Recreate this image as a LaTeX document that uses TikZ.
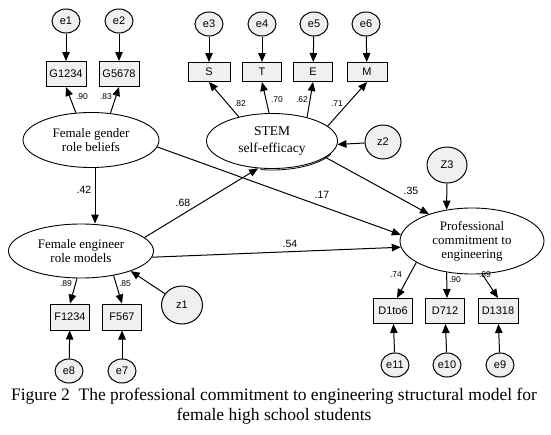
\documentclass[tikz,border=0pt]{standalone}
\usepackage{fontspec}
\setmainfont{Liberation Serif}
\newfontfamily\arialf{Liberation Sans}
\usetikzlibrary{shapes.geometric,arrows.meta}
\begin{document}
\begin{tikzpicture}[x=1pt,y=-1pt,
  lat/.style={ellipse,draw,line width=0.9pt,fill=white,inner sep=0pt,align=center},
  obs/.style={rectangle,draw,line width=1pt,fill=gray!12,minimum width=40pt,minimum height=25pt,inner sep=0pt,font=\arialf\fontsize{11}{12}\selectfont},
  err/.style={ellipse,draw,line width=1pt,fill=gray!12,minimum width=28pt,minimum height=24pt,inner sep=0pt,font=\arialf\fontsize{11}{12}\selectfont},
  arr/.style={-{Triangle[length=9pt,width=7.5pt]},line width=1pt},
  sl/.style={font=\arialf\fontsize{8.5}{9}\selectfont,inner sep=0pt},
  bl/.style={font=\arialf\fontsize{10.5}{11}\selectfont,inner sep=0pt}
]
\useasboundingbox (0,0) rectangle (551,434);
% gender block
\node[err] (e1) at (66,21) {e1};
\node[err] (e2) at (119,21) {e2};
\node[obs] (G1) at (66,74) {G1234};
\node[obs] (G2) at (119,74) {G5678};
\node[lat,minimum width=136pt,minimum height=55pt,font=\fontsize{13}{14}\selectfont] (gender) at (91,140) {Female gender\\role beliefs};
% STEM block
\node[err] (e3) at (209,24) {e3};
\node[err] (e4) at (262,24) {e4};
\node[err] (e5) at (314,24) {e5};
\node[err] (e6) at (366,24) {e6};
\node[obs,minimum width=42pt,minimum height=19pt] (S) at (209,72) {S};
\node[obs,minimum width=39pt,minimum height=19pt] (T) at (262,72) {T};
\node[obs,minimum width=39pt,minimum height=19pt] (E) at (313,72) {E};
\node[obs,minimum width=40pt,minimum height=19pt] (M) at (367,72) {M};
\node[lat,minimum width=131pt,minimum height=55pt,font=\fontsize{13.5}{16.5}\selectfont] (stem) at (272,141) {STEM\\self-efficacy};
\node[err,minimum width=36pt,minimum height=34pt] (z2) at (383,142) {z2};
\draw[line width=0.8pt] (260.7,169.6) arc[start angle=100,end angle=25,x radius=65,y radius=27.5];
% engineer block
\node[lat,minimum width=145pt,minimum height=54pt,font=\fontsize{13}{14}\selectfont] (eng) at (81,251) {Female engineer\\role models};
\node[obs,minimum width=39pt,minimum height=26pt] (F1) at (70,317) {F1234};
\node[obs,minimum width=39pt,minimum height=26pt] (F2) at (122,317) {F567};
\node[err] (e8) at (69,371) {e8};
\node[err] (e7) at (122,371) {e7};
\node[err,minimum width=41pt,minimum height=38pt] (z1) at (182,305) {z1};
% professional block
\node[lat,minimum width=144pt,minimum height=66pt,font=\fontsize{13}{14}\selectfont] (prof) at (472,241) {Professional\\commitment to\\engineering};
\node[err,minimum width=40pt,minimum height=36pt] (Z3) at (447,165) {Z3};
\node[obs,minimum width=39pt,minimum height=25pt] (D1) at (393,311) {D1to6};
\node[obs,minimum width=39pt,minimum height=25pt] (D2) at (445,311) {D712};
\node[obs,minimum width=40pt,minimum height=25pt] (D3) at (498,311) {D1318};
\node[err] (e11) at (395,365) {e11};
\node[err] (e10) at (447,365) {e10};
\node[err] (e9) at (500,365) {e9};
% connectors
\draw[arr] (e1) -- (G1);
\draw[arr] (e2) -- (G2);
\draw[arr] (e3) -- (S);
\draw[arr] (e4) -- (T);
\draw[arr] (e5) -- (E);
\draw[arr] (e6) -- (M);
\draw[arr] (gender.119) -- (G1.south);
\draw[arr] (gender.54) -- (G2.south);
\draw[arr] (stem.144) -- (S.south);
\draw[arr] (stem.96) -- (T.south);
\draw[arr] (stem.34.5) -- (E.south);
\draw[arr] (stem.15) -- (M.south);
\draw[arr] ([xshift=4pt]gender.south) -- ([xshift=14pt]eng.north);
\draw[arr] (gender.-6) -- (prof.175);
\draw[arr] (eng.12) -- (stem.-117);
\draw[arr] (eng.-5) -- (prof.185);
\draw[arr] (stem.-17) -- (prof.148);
\draw[arr] (z2) -- (stem.-3);
\draw[arr] (z1) -- (eng.-22);
\draw[arr] (Z3) -- (prof.129);
\draw[arr] ([xshift=-4pt]eng.south) -- (F1.north);
\draw[arr] (eng.-37) -- (F2.north);
\draw[arr] (e8) -- (F1);
\draw[arr] (e7) -- (F2);
\draw[arr] (prof.-159) -- ([xshift=4pt]D1.north);
\draw[arr] (prof.-129) -- ([xshift=2pt]D2.north);
\draw[arr] (prof.-73) -- (D3.north);
\draw[arr] (e11) -- (D1);
\draw[arr] (e10) -- (D2);
\draw[arr] (e9) -- (D3);
% labels
\node[sl] (l1) at (82,97) {.90};
\node[sl] (l2) at (106,97) {.83};
\node[sl] (l3) at (240,104) {.82};
\node[sl] (l4) at (277,100) {.70};
\node[sl] (l5) at (302,100) {.62};
\node[sl] (l6) at (337,104) {.71};
\node[sl] (l7) at (66,284) {.89};
\node[sl] (l8) at (125,284) {.85};
\node[sl] (l9) at (396,275) {.74};
\node[sl] (l10) at (455,280) {.90};
\node[sl] (l11) at (485,275) {.89};
\node[bl] (m1) at (84,190) {.42};
\node[bl] (m2) at (183,203) {.68};
\node[bl] (m3) at (322,195) {.17};
\node[bl] (m4) at (411,191) {.35};
\node[bl] (m5) at (290,244) {.54};
% caption
\node[font=\fontsize{17.5}{20}\selectfont,align=center,inner sep=0pt] (cap) at (274,406) {Figure 2\ \ The professional commitment to engineering structural model for\\female high school students};
\end{tikzpicture}
\end{document}
